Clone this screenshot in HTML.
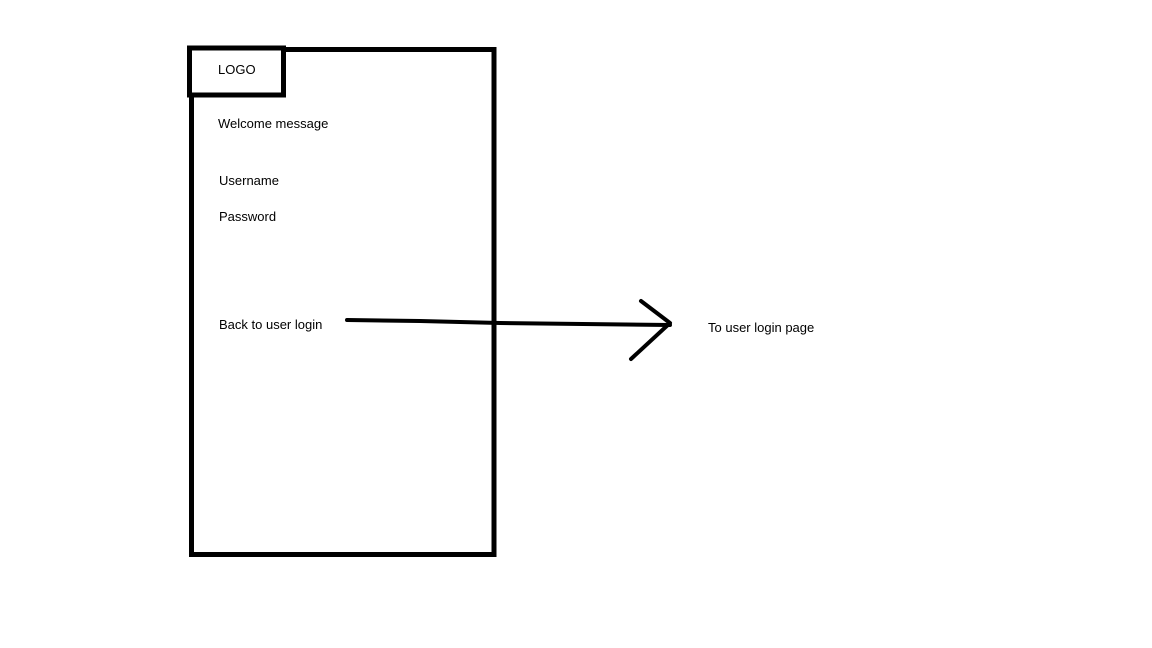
<!DOCTYPE html>
<html><head><style>
html,body{margin:0;padding:0;background:#fff;width:1152px;height:648px;overflow:hidden}
svg{position:absolute;left:0;top:0}
.t{position:absolute;font-family:"Liberation Sans",sans-serif;font-size:13px;color:#000;white-space:nowrap}
</style></head><body>
<svg width="1152" height="648">
<rect x="191.5" y="49.5" width="302.5" height="505" fill="none" stroke="#000" stroke-width="5"/>
<rect x="189.5" y="48" width="94" height="47" fill="#fff" stroke="#000" stroke-width="5"/>
<polyline points="347,320 420,321 500,323 670,325" fill="none" stroke="#000" stroke-width="4" stroke-linecap="round"/>
<polyline points="641,301 670,323 631,359" fill="none" stroke="#000" stroke-width="4" stroke-linecap="round" stroke-linejoin="round"/>
</svg>
<div class="t" style="left:218px;top:62px">LOGO</div>
<div class="t" style="left:218px;top:116px">Welcome message</div>
<div class="t" style="left:219px;top:173px">Username</div>
<div class="t" style="left:219px;top:209px">Password</div>
<div class="t" style="left:219px;top:317px">Back to user login</div>
<div class="t" style="left:708px;top:320px">To user login page</div>
</body></html>
